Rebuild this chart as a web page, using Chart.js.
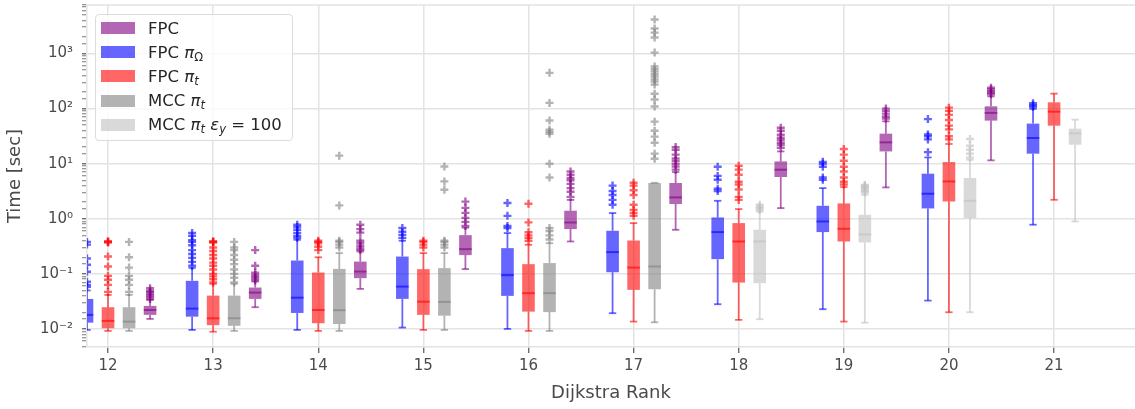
<!DOCTYPE html>
<html>
<head>
<meta charset="utf-8">
<script src="https://cdn.jsdelivr.net/npm/chart.js@4.4.1/dist/chart.umd.min.js"></script>
<style>
  html, body { margin: 0; padding: 0; background: #fff; }
  #wrap { position: relative; width: 1135px; height: 409px; }
  #legend {
    position: absolute; left: 95px; top: 14px;
    padding: 1px 10px 3px 5px;
    background: rgba(255,255,255,0.8);
    border: 1px solid #dcdcdc; border-radius: 4px;
    font-family: "DejaVu Sans", sans-serif; font-size: 16.5px; color: #262626;
  }
  #legend .row { height: 24.2px; display: flex; align-items: center; white-space: nowrap; }
  #legend .sw { width: 34px; height: 12px; margin-right: 13px; flex: none; }
  #legend i { font-style: oblique; }
  #legend sub { font-size: 0.7em; vertical-align: -0.3em; line-height: 0; }
</style>
</head>
<body>
<div id="wrap">
  <canvas id="chart" width="1135" height="409"></canvas>
  <div id="legend"></div>
</div>
<script>
// ── data: [whisker low, q1, median, q3, whisker high] per rank ──────────
const fpcRanks = [12, 13, 14, 15, 16, 17, 18, 19, 20];
const fpcStats = [
  [0.0152, 0.018, 0.0221, 0.0262, 0.0337],
  [0.0248, 0.0351, 0.0457, 0.0564, 0.0725],
  [0.0534, 0.0835, 0.110, 0.167, 0.254],
  [0.122, 0.219, 0.281, 0.505, 0.69],
  [0.387, 0.65, 0.857, 1.4, 2.2],
  [0.631, 1.85, 2.44, 4.46, 7.06],
  [1.56, 5.73, 7.78, 11.0, 16.7],
  [3.71, 16.7, 24.4, 35.1, 58.8],
  [11.5, 60.5, 83.5, 110, 167],
];
const fpcFliers = [
  [0.035, 0.038, 0.041, 0.044, 0.047, 0.05, 0.055],
  [0.076, 0.082, 0.088, 0.095, 0.105, 0.14, 0.27],
  [0.27, 0.29, 0.32, 0.36, 0.4, 0.56, 0.65, 0.78],
  [0.74, 0.88, 1.04, 1.28, 1.58, 2.05],
  [2.5, 3.1, 3.6, 4.3, 5.0, 5.5, 6.3, 7.2],
  [7.8, 8.9, 10, 11.3, 12.5, 14.6, 17.9, 20],
  [19.5, 22, 24, 27, 29.5, 33.5, 39.6, 45],
  [66, 72, 81, 91, 100],
  [182, 195, 206, 225, 240],
];

const piOmegaRanks = [12, 13, 14, 15, 16, 17, 18, 19, 20, 21];
const piOmegaStats = [
  [0.0096, 0.013, 0.018, 0.035, 0.05],
  [0.0096, 0.0167, 0.0234, 0.0747, 0.128],
  [0.0096, 0.0195, 0.037, 0.1745, 0.415],
  [0.0106, 0.0351, 0.0587, 0.206, 0.4],
  [0.01, 0.0398, 0.0947, 0.293, 0.55],
  [0.0193, 0.107, 0.248, 0.605, 1.27],
  [0.0281, 0.185, 0.573, 1.057, 2.12],
  [0.0228, 0.573, 0.893, 1.72, 3.6],
  [0.0327, 1.54, 2.85, 6.58, 13.0],
  [0.78, 15.2, 29.3, 53.4, 98.8],
];
const piOmegaFliers = [
  [0.058, 0.063, 0.072, 0.109, 0.146, 0.19, 0.34, 0.38],
  [0.14, 0.165, 0.195, 0.23, 0.27, 0.33, 0.38, 0.41, 0.49, 0.55],
  [0.45, 0.49, 0.55, 0.63, 0.71, 0.78],
  [0.45, 0.51, 0.58, 0.68],
  [0.68, 0.74, 1.13, 1.93],
  [1.8, 2.2, 2.7, 3.2, 4.0],
  [3.2, 3.5, 5.1, 6.0, 8.8],
  [5.1, 5.6, 8.8, 10, 10.8],
  [16.2, 27.6, 31.4, 34, 64.5],
  [108, 115, 125],
];

const piTRanks = [12, 13, 14, 15, 16, 17, 18, 19, 20, 21];
const piTStats = [
  [0.0092, 0.0103, 0.014, 0.0248, 0.0415],
  [0.0089, 0.0117, 0.0156, 0.0403, 0.0658],
  [0.0092, 0.0127, 0.0221, 0.1056, 0.2],
  [0.0096, 0.018, 0.0313, 0.1217, 0.238],
  [0.0092, 0.0206, 0.0446, 0.15, 0.337],
  [0.0136, 0.0512, 0.13, 0.403, 0.835],
  [0.0146, 0.0695, 0.387, 0.835, 1.5],
  [0.0136, 0.387, 0.658, 1.9, 3.77],
  [0.0201, 2.06, 4.76, 10.7, 22.8],
  [2.21, 49, 88, 130, 187],
];
const piTFliers = [
  [0.047, 0.063, 0.078, 0.092, 0.136, 0.206, 0.37, 0.38, 0.39],
  [0.07, 0.08, 0.09, 0.1, 0.12, 0.14, 0.16, 0.19, 0.22, 0.26, 0.3, 0.37, 0.38, 0.39],
  [0.27, 0.31, 0.36, 0.38, 0.4],
  [0.3, 0.34, 0.38, 0.4],
  [0.4, 0.45, 0.5, 0.57, 0.86, 1.87],
  [1.13, 1.27, 1.45, 1.8, 2.7, 3.3, 4.0, 4.5],
  [2.2, 2.5, 3.4, 4.2, 4.7, 6.3, 7.8, 9.2],
  [4.2, 4.7, 5.6, 7.2, 8.8, 11.3, 14.6, 18.5],
  [27.6, 31.4, 42, 49, 62, 77, 91, 104],
  [],
];

const mccRanks = [12, 13, 14, 15, 16, 17];
const mccStats = [
  [0.0092, 0.0103, 0.0136, 0.0248, 0.0415],
  [0.0092, 0.0114, 0.0156, 0.0403, 0.066],
  [0.0092, 0.0123, 0.0219, 0.123, 0.238],
  [0.0096, 0.0174, 0.031, 0.127, 0.238],
  [0.0092, 0.0202, 0.0446, 0.157, 0.36],
  [0.0132, 0.0527, 0.136, 4.45, 4.5],
];
const mccFliers = [
  [0.047, 0.063, 0.078, 0.092, 0.13, 0.2, 0.38],
  [0.07, 0.085, 0.1, 0.12, 0.15, 0.18, 0.22, 0.27, 0.3, 0.38],
  [0.3, 0.34, 0.38, 0.4, 1.75, 14],
  [0.3, 0.34, 0.38, 0.4, 3.37, 4.77, 8.9],
  [0.42, 0.5, 0.6, 0.68, 5.6, 10, 35, 38, 41.5, 61, 127, 446],
  [12.3, 15.2, 24, 31, 39.6, 58, 109, 146, 186, 273, 309, 340, 380, 420, 471, 520, 580, 1040, 1950, 2400, 2850, 4150],
];

const mccEpsRanks = [18, 19, 20, 21];
const mccEpsStats = [
  [0.015, 0.0678, 0.387, 0.631, 1.34],
  [0.013, 0.371, 0.518, 1.18, 2.73],
  [0.0201, 1.03, 2.12, 5.5, 11.8],
  [0.893, 22.1, 35.6, 43.3, 63],
];
const mccEpsFliers = [
  [1.45, 1.55, 1.65, 1.8],
  [3.0, 3.2, 3.4, 3.6, 3.8, 4.0, 4.1],
  [12.9, 15.2, 17.9, 21.2, 28],
  [],
];

// ── series: label, colour, offset from the rank ──────────────────────────
const SERIES = [
  { label: "FPC", color: [128, 0, 128], offset: 0.4,
    ranks: fpcRanks, stats: fpcStats, fliers: fpcFliers },
  { label: "FPC <i>π</i><sub>Ω</sub>", color: [0, 0, 255], offset: -0.2,
    ranks: piOmegaRanks, stats: piOmegaStats, fliers: piOmegaFliers },
  { label: "FPC <i>π<sub>t</sub></i>", color: [255, 0, 0], offset: 0,
    ranks: piTRanks, stats: piTStats, fliers: piTFliers },
  { label: "MCC <i>π<sub>t</sub></i>", color: [128, 128, 128], offset: 0.2,
    ranks: mccRanks, stats: mccStats, fliers: mccFliers },
  { label: "MCC <i>π<sub>t</sub></i> <i>ε<sub>y</sub></i> = 100", color: [192, 192, 192], offset: 0.2,
    ranks: mccEpsRanks, stats: mccEpsStats, fliers: mccEpsFliers },
];

const ALPHA = 0.6;
const BOX_W = 0.12;   // box width in rank units
const CAP_W = 0.07;
const GRID = "#e3e3e3";
const TEXT = "#4a4a4a";
const FONT = "'DejaVu Sans', sans-serif";

const rgba = (c, a) => `rgba(${c[0]},${c[1]},${c[2]},${a})`;
const halfPx = (chart, w) => {
  const x = chart.scales.x;
  return Math.abs(x.getPixelForValue(w) - x.getPixelForValue(0)) / 2;
};
const isPow10 = (v) => {
  const l = Math.log10(v);
  return Math.abs(l - Math.round(l)) < 1e-6;
};
const SUP = { "-": "⁻", "0": "⁰", "1": "¹", "2": "²", "3": "³", "4": "⁴" };
const powLabel = (v) => "10" + String(Math.round(Math.log10(v))).split("").map((ch) => SUP[ch]).join("");

// ── datasets ──────────────────────────────────────────────────────────────
const datasets = [];
SERIES.forEach((s) => {
  const col = rgba(s.color, ALPHA);
  const xs = s.ranks.map((r) => r + s.offset);

  datasets.push({
    type: "scatter", label: s.label + " fliers", order: 1,
    data: s.fliers.flatMap((fl, i) => fl.map((v) => ({ x: xs[i], y: v }))),
    pointStyle: "cross", pointRadius: 4, pointBorderWidth: 2.4,
    borderColor: col, backgroundColor: col,
  });
  datasets.push({
    type: "scatter", label: s.label + " median", order: 1,
    data: s.stats.map((st, i) => ({ x: xs[i], y: st[2] })),
    pointStyle: "line", pointRadius: (ctx) => halfPx(ctx.chart, BOX_W),
    pointBorderWidth: 2, borderColor: col,
  });
  datasets.push({
    type: "scatter", label: s.label + " caps", order: 2,
    data: s.stats.flatMap((st, i) => [{ x: xs[i], y: st[0] }, { x: xs[i], y: st[4] }]),
    pointStyle: "line", pointRadius: (ctx) => halfPx(ctx.chart, CAP_W),
    pointBorderWidth: 1.8, borderColor: col,
  });
  datasets.push({
    type: "line", label: s.label + " whiskers", order: 2,
    data: s.stats.flatMap((st, i) => [
      { x: xs[i], y: st[0] }, { x: xs[i], y: st[1] }, { x: xs[i], y: null },
      { x: xs[i], y: st[3] }, { x: xs[i], y: st[4] }, { x: xs[i], y: null },
    ]),
    borderColor: col, borderWidth: 1.8, pointRadius: 0, spanGaps: false, fill: false,
  });
  datasets.push({
    type: "bar", label: s.label, order: 3,
    data: s.stats.map((st, i) => ({ x: xs[i], y: [st[1], st[3]] })),
    backgroundColor: col, borderWidth: 0,
    grouped: false, barPercentage: 0.6, categoryPercentage: 1,
  });
});

// top edge of the plot frame (the right edge is outside the picture)
const framePlugin = {
  id: "frame",
  beforeDatasetsDraw(chart) {
    const { ctx, chartArea: a } = chart;
    ctx.save();
    ctx.strokeStyle = GRID;
    ctx.lineWidth = 1.5;
    ctx.beginPath();
    ctx.moveTo(a.left, a.top);
    ctx.lineTo(a.right, a.top);
    ctx.stroke();
    ctx.restore();
  },
};

new Chart(document.getElementById("chart"), {
  type: "bar",
  data: { datasets },
  options: {
    responsive: false,
    animation: false,
    events: [],
    layout: { autoPadding: false, padding: { top: 5, right: 0, left: 0, bottom: 0 } },
    plugins: { legend: { display: false }, tooltip: { enabled: false } },
    scales: {
      x: {
        type: "linear", min: 11.8, max: 21.77, offset: false,
        grid: { color: GRID, lineWidth: 1.5, tickColor: "#555", tickLength: 6, tickWidth: 1.2, offset: false },
        border: { color: GRID, width: 1.5 },
        ticks: { stepSize: 1, includeBounds: false, color: TEXT, padding: 4,
                 font: { family: FONT, size: 15 } },
        title: { display: true, text: "Dijkstra Rank", color: TEXT,
                 font: { family: FONT, size: 18 }, padding: { top: 0, bottom: 5 } },
        afterFit: (s) => { s.height = 62; s.paddingLeft = 0; s.paddingRight = 0; },
      },
      y: {
        type: "logarithmic", min: 0.0047, max: 7600,
        grid: {
          color: (c) => (c.tick && isPow10(c.tick.value) ? GRID : "rgba(0,0,0,0)"),
          lineWidth: 1.5, tickColor: "#555", tickLength: 5,
          tickWidth: (c) => (c.tick && isPow10(c.tick.value) ? 1.2 : 0.8),
        },
        border: { color: GRID, width: 1.5 },
        ticks: { autoSkip: false, color: TEXT, padding: 9,
                 font: { family: FONT, size: 15 },
                 callback: (v) => (isPow10(v) ? powLabel(v) : "") },
        title: { display: true, text: "Time [sec]", color: TEXT,
                 font: { family: FONT, size: 18 }, padding: { top: 5, bottom: 0 } },
        afterFit: (s) => { s.width = 87; s.paddingTop = 0; s.paddingBottom = 0; },
      },
    },
  },
  plugins: [framePlugin],
});

// ── legend (HTML so the sub/superscripts stay real text) ───────────────────
const legendEl = document.getElementById("legend");
SERIES.forEach((s) => {
  const row = document.createElement("div");
  row.className = "row";
  row.innerHTML = `<span class="sw" style="background:${rgba(s.color, ALPHA)}"></span><span>${s.label}</span>`;
  legendEl.appendChild(row);
});
</script>
</body>
</html>
